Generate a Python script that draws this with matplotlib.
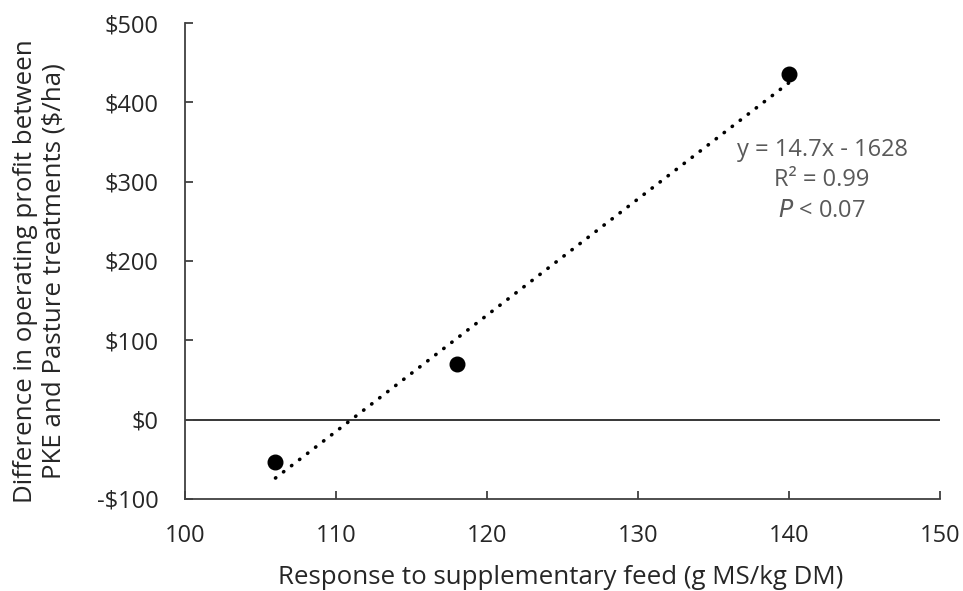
import numpy as np
import matplotlib
matplotlib.use("Agg")
import matplotlib.pyplot as plt
from matplotlib.ticker import FuncFormatter

plt.rcParams['font.family'] = ['Open Sans', 'DejaVu Sans']
FS = 17
FL = 18.6

x_vals = [106, 118, 140]
y_vals = [-53, 70, 436]
x_ticks = [100, 110, 120, 130, 140, 150]
y_ticks = [-100, 0, 100, 200, 300, 400, 500]

fig = plt.figure(figsize=(9.63, 5.91), dpi=100)
ax = fig.add_axes([0.192, 0.156, 0.784, 0.805])

slope, intercept = np.polyfit(x_vals, y_vals, 1)
xl = np.array([min(x_vals), max(x_vals)])
ax.plot(xl, slope * xl + intercept, linestyle=(0, (0.1, 2.7)), color='black',
        linewidth=2.6, dash_capstyle='round', zorder=2)
ax.axhline(0, color='black', linewidth=1.1, zorder=1)
ax.plot(x_vals, y_vals, 'o', color='black', markersize=10.5, zorder=3)

ax.set_xlim(100, 150)
ax.set_ylim(-100, 500)
ax.set_xticks(x_ticks)
ax.set_yticks(y_ticks)

def money(v, pos):
    v = int(round(v))
    return f"-${abs(v)}" if v < 0 else f"${v}"

ax.yaxis.set_major_formatter(FuncFormatter(money))
for s in ['top', 'right']:
    ax.spines[s].set_visible(False)
for s in ['left', 'bottom']:
    ax.spines[s].set_color('#404040')
    ax.spines[s].set_linewidth(1.3)
ax.tick_params(direction='in', length=6, width=1.3, color='#404040',
               labelsize=FS, labelcolor='#262626')
ax.tick_params(axis='y', pad=19)
ax.tick_params(axis='x', pad=18)

ax.set_xlabel("Response to supplementary feed (g MS/kg DM)", fontsize=FL,
              color='#262626')
ax.xaxis.set_label_coords(0.498, -0.165)
ax.xaxis.label.set_va('center')
ax.set_ylabel("Difference in operating profit between\nPKE and Pasture treatments ($/ha)",
              fontsize=FL, color='#262626', linespacing=1.2)
ax.yaxis.set_label_coords(-0.192, 0.479)
ax.yaxis.label.set_va('center')

ax.text(0.844, 0.733, "y = 14.7x - 1628", transform=ax.transAxes,
        ha='center', va='center', fontsize=FS, color='#595959')
ax.text(0.844, 0.670, "R² = 0.99", transform=ax.transAxes,
        ha='center', va='center', fontsize=FS, color='#595959')
ax.text(0.844, 0.605, r"$\it{P}$ < 0.07", transform=ax.transAxes,
        ha='center', va='center', fontsize=FS, color='#595959')

fig.savefig("out.png", dpi=100)
